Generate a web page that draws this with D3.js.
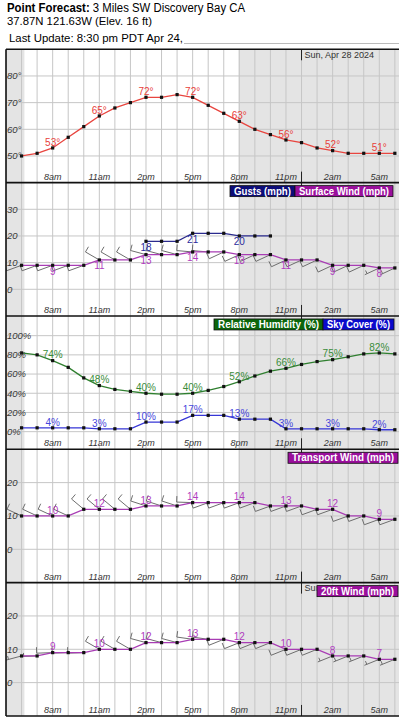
<!DOCTYPE html>
<meta charset="utf-8">

<style>
  body {
    margin: 0;
    background: #fff;
  }

  svg text {
    font-family: "Liberation Sans", Arial, sans-serif;
  }
</style>

<!-- Load d3.js -->
<script src="https://d3js.org/d3.v7.min.js"></script>

<div id="chart"></div>

<script>

  // hourly forecast times (Sat Apr 27 6am -> Sun Apr 28 6am)
  var times = ["2024-04-27 06:00", "2024-04-27 07:00", "2024-04-27 08:00", "2024-04-27 09:00",
    "2024-04-27 10:00", "2024-04-27 11:00", "2024-04-27 12:00", "2024-04-27 13:00",
    "2024-04-27 14:00", "2024-04-27 15:00", "2024-04-27 16:00", "2024-04-27 17:00",
    "2024-04-27 18:00", "2024-04-27 19:00", "2024-04-27 20:00", "2024-04-27 21:00",
    "2024-04-27 22:00", "2024-04-27 23:00", "2024-04-28 00:00", "2024-04-28 01:00",
    "2024-04-28 02:00", "2024-04-28 03:00", "2024-04-28 04:00", "2024-04-28 05:00",
    "2024-04-28 06:00"]

  // x axis labels every 3 hours
  var tickTimes = ["2024-04-27 08:00", "2024-04-27 11:00", "2024-04-27 14:00", "2024-04-27 17:00",
    "2024-04-27 20:00", "2024-04-27 23:00", "2024-04-28 02:00", "2024-04-28 05:00"]

  // which hours get a value label
  var labelIdx = [2, 5, 8, 11, 14, 17, 20, 23]

  var sunrise = "2024-04-27 06:11"
  var sunset = "2024-04-27 19:57"
  var midnight = "2024-04-28 00:00"

  // series values
  var temperature = [50, 51, 53, 57, 61, 65, 68, 70, 72, 72, 73, 72, 69, 66, 63, 60, 58, 56, 55, 53, 52, 51, 51, 51, 51]
  var surfaceWind = [9, 9, 9, 9, 9, 11, 11, 11, 13, 13, 13, 14, 14, 14, 13, 13, 13, 11, 11, 11, 9, 9, 9, 8, 8]
  var surfaceDir = [250, 250, 250, 250, 250, 300, 300, 300, 285, 285, 285, 275, 275, 245, 245, 245, 245, 245, 245, 245, 245, 245, 245, 245, 245]
  var gusts = [null, null, null, null, null, null, null, null, 18, 18, 18, 21, 21, 21, 20, 20, 20, null, null, null, null, null, null, null, null]
  var humidity = [82, 80, 74, 67, 56, 48, 44, 42, 40, 39, 39, 40, 43, 47, 52, 58, 63, 66, 70, 73, 75, 78, 81, 82, 81]
  var skyCover = [4, 4, 4, 4, 4, 3, 3, 3, 10, 10, 10, 17, 17, 17, 13, 13, 13, 3, 3, 3, 3, 3, 3, 2, 2]
  var transportWind = [10, 10, 10, 10, 12, 12, 12, 12, 13, 13, 13, 14, 14, 14, 14, 14, 13, 13, 13, 12, 12, 10, 10, 9, 9]
  var transportDir = [295, 295, 295, 295, 310, 310, 310, 310, 288, 288, 288, 272, 250, 250, 250, 250, 250, 250, 250, 250, 250, 250, 250, 250, 250]
  var wind20ft = [8, 8, 9, 9, 9, 10, 10, 10, 12, 12, 12, 13, 13, 13, 12, 12, 12, 10, 10, 10, 8, 8, 8, 7, 7]
  var wind20ftDir = [255, 268, 268, 268, 268, 300, 300, 300, 285, 285, 285, 278, 278, 248, 248, 248, 248, 248, 248, 248, 248, 248, 248, 248, 248]

  var parseTime = d3.timeParse("%Y-%m-%d %H:%M")
  var hours = times.map(parseTime)

  var W = 399, H = 720
  var panelTop = 49.3, panelH = 133.33
  var left = 6

  var svg = d3.select("#chart")
    .append("svg")
    .attr("width", W)
    .attr("height", H)

  // ---- header ----
  var t1 = svg.append("text")
    .attr("x", 7).attr("y", 12.3)
    .attr("textLength", 238).attr("lengthAdjust", "spacingAndGlyphs")
    .style("font-size", "12.5px")
  t1.append("tspan").style("font-weight", "bold").text("Point Forecast:")
  t1.append("tspan").text(" 3 Miles SW Discovery Bay CA")

  svg.append("text")
    .attr("x", 7).attr("y", 25)
    .attr("textLength", 145).attr("lengthAdjust", "spacingAndGlyphs")
    .style("font-size", "11.8px")
    .text("37.87N 121.63W (Elev. 16 ft)")

  svg.append("text")
    .attr("x", 9).attr("y", 41.6)
    .attr("textLength", 174).attr("lengthAdjust", "spacingAndGlyphs")
    .style("font-size", "11.8px")
    .text("Last Update: 8:30 pm PDT Apr 24,")

  svg.append("line")
    .attr("x1", 184).attr("x2", W).attr("y1", 43.5).attr("y2", 43.5)
    .attr("stroke", "#bbb")

  // x scale shared by all panels (5am -> 7am next day)
  var x = d3.scaleTime()
    .domain([parseTime("2024-04-27 05:00"), parseTime("2024-04-28 07:00")])
    .range([left, 410.4])

  // panel layout
  var panels = [0, 1, 2, 3, 4].map(function (i) {
    return { top: panelTop + i * panelH, bottom: panelTop + (i + 1) * panelH }
  })

  var yTemp = d3.scaleLinear().domain([40, 90]).range([panels[0].bottom, panels[0].top])
  var ySurf = d3.scaleLinear().domain([-10, 40]).range([panels[1].bottom, panels[1].top])
  var yPct = d3.scaleLinear().domain([0, 100]).range([panels[2].top + 115.7, panels[2].top + 19.7])
  var yTrans = d3.scaleLinear().domain([-10, 30]).range([panels[3].bottom, panels[3].top])
  var y20 = d3.scaleLinear().domain([-10, 30]).range([panels[4].bottom, panels[4].top])

  svg.append("clipPath").attr("id", "plotclip")
    .append("rect").attr("x", left).attr("y", panelTop).attr("width", W - left).attr("height", 5 * panelH)

  // draws the background of one panel: night shade, grid, date marks
  // dateEnd: where the legend starts covering the date text (0 = fully covered)
  function drawFrame(p, y, yTicks, dateEnd) {
    var g = svg.append("g").attr("clip-path", "url(#plotclip)")

    g.append("rect")
      .attr("x", x.range()[0]).attr("y", p.top)
      .attr("width", x(parseTime(sunrise)) - x.range()[0]).attr("height", panelH)
      .attr("fill", "#e4e4e4")
    g.append("rect")
      .attr("x", x(parseTime(sunset))).attr("y", p.top)
      .attr("width", x.range()[1] - x(parseTime(sunset))).attr("height", panelH)
      .attr("fill", "#e4e4e4")

    // hourly vertical grid
    g.selectAll(null)
      .data(d3.timeHour.range(x.domain()[0], x.domain()[1]))
      .enter().append("line")
      .attr("x1", function (d) { return x(d) }).attr("x2", function (d) { return x(d) })
      .attr("y1", p.top).attr("y2", p.bottom)
      .attr("stroke", "#c6c6c6").attr("stroke-width", 1)

    // horizontal grid
    g.selectAll(null)
      .data(yTicks)
      .enter().append("line")
      .attr("x1", left).attr("x2", W)
      .attr("y1", function (d) { return y(d) }).attr("y2", function (d) { return y(d) })
      .attr("stroke", "#c6c6c6").attr("stroke-width", 1)

    // midnight marks + date
    var mx = x(parseTime(midnight))
    g.append("line").attr("x1", mx).attr("x2", mx).attr("y1", p.top).attr("y2", p.top + 11)
      .attr("stroke", "#222").attr("stroke-width", 1)
    g.append("line").attr("x1", mx).attr("x2", mx).attr("y1", p.bottom - 11).attr("y2", p.bottom)
      .attr("stroke", "#222").attr("stroke-width", 1)

    if (dateEnd > mx) {
      var cid = "dateclip" + Math.round(p.top)
      svg.append("clipPath").attr("id", cid)
        .append("rect").attr("x", mx).attr("y", p.top).attr("width", dateEnd - mx).attr("height", 14)
      svg.append("text")
        .attr("clip-path", "url(#" + cid + ")")
        .attr("x", mx + 3).attr("y", p.top + 8.5)
        .style("font-size", "9px").attr("fill", "#333")
        .text("Sun, Apr 28 2024")
    }

    // x labels
    g.selectAll(null)
      .data(tickTimes.map(parseTime))
      .enter().append("text")
      .attr("x", function (d) { return x(d) })
      .attr("y", p.bottom - 3)
      .attr("text-anchor", "middle")
      .style("font-size", "9px").style("font-style", "italic")
      .attr("fill", "#333")
      .text(function (d) { return d3.timeFormat("%-I%p")(d).toLowerCase() })

    return g
  }

  function drawYLabels(y, yTicks, yFmt) {
    svg.append("g").selectAll(null)
      .data(yTicks)
      .enter().append("text")
      .attr("x", 7)
      .attr("y", function (d) { return y(d) + 3.3 })
      .style("font-size", "9.5px").style("font-style", "italic")
      .attr("fill", "#3a3a3a")
      .text(yFmt)
  }

  // wind barbs, staff pointing where the wind comes from
  function drawBarbs(g, y, speeds, dirs) {
    var path = d3.path()
    speeds.forEach(function (s, i) {
      var px = x(hours[i]), py = y(s)
      var a = dirs[i] * Math.PI / 180
      var ux = Math.sin(a), uy = -Math.cos(a)
      var ex = px + ux * 16, ey = py + uy * 16
      path.moveTo(px, py)
      path.lineTo(ex, ey)
      var knots = Math.round(s * 0.869 / 5) * 5
      var full = Math.floor(knots / 10), half = knots % 10 >= 5
      for (var k = 0; k < full; k++) {
        var fx = ex - ux * k * 3, fy = ey - uy * k * 3
        path.moveTo(fx, fy)
        path.lineTo(fx - uy * 6, fy + ux * 6)
      }
      if (half) {
        var off = full == 0 ? 2.5 : full * 3
        var hx = ex - ux * off, hy = ey - uy * off
        path.moveTo(hx, hy)
        path.lineTo(hx - uy * 3.5, hy + ux * 3.5)
      }
    })
    g.append("path")
      .attr("d", path.toString())
      .attr("fill", "none")
      .attr("stroke", "#6e6e6e")
      .attr("stroke-width", 1)
  }

  // one series: line, black squares, value labels
  function drawSeries(g, y, values, lineColor, labelColor, below, suffix) {
    var line = d3.line()
      .defined(function (d) { return d != null })
      .x(function (d, i) { return x(hours[i]) })
      .y(function (d) { return y(d) })

    g.append("path")
      .datum(values)
      .attr("d", line)
      .attr("fill", "none")
      .attr("stroke", lineColor)
      .attr("stroke-width", 1.3)

    g.selectAll(null)
      .data(values.map(function (v, i) { return { v: v, t: hours[i] } }).filter(function (d) { return d.v != null }))
      .enter().append("rect")
      .attr("x", function (d) { return x(d.t) - 1.6 })
      .attr("y", function (d) { return y(d.v) - 1.6 })
      .attr("width", 3.2).attr("height", 3.2)
      .attr("fill", "#111")

    g.selectAll(null)
      .data(labelIdx.filter(function (i) { return values[i] != null }))
      .enter().append("text")
      .attr("x", function (i) { return x(hours[i]) })
      .attr("y", function (i) { return below ? y(values[i]) + 9.5 : y(values[i]) - 2.2 })
      .attr("text-anchor", "middle")
      .style("font-size", "10px")
      .attr("fill", labelColor)
      .text(function (i) { return values[i] + suffix })
  }

  // legend boxes at the top right of a panel
  function drawLegend(p, items) {
    items.forEach(function (it) {
      svg.append("rect")
        .attr("x", it.x0).attr("y", p.top + 3)
        .attr("width", it.x1 - it.x0).attr("height", 11)
        .attr("fill", it.color)
        .attr("stroke", "#111").attr("stroke-width", 0.8)
      svg.append("text")
        .attr("x", (it.x0 + it.x1) / 2).attr("y", p.top + 12)
        .attr("text-anchor", "middle")
        .attr("textLength", it.x1 - it.x0 - 8).attr("lengthAdjust", "spacingAndGlyphs")
        .style("font-size", "10px").style("font-weight", "bold")
        .attr("fill", "#fff")
        .text(it.label)
    })
  }

  // ---- panel 1: temperature ----
  var g1 = drawFrame(panels[0], yTemp, [50, 60, 70, 80], W)
  drawSeries(g1, yTemp, temperature, "#e8453f", "#e8403a", false, "°")
  drawYLabels(yTemp, [50, 60, 70, 80], function (d) { return d + "°" })

  // ---- panel 2: surface wind + gusts ----
  var g2 = drawFrame(panels[1], ySurf, [0, 10, 20, 30], 0)
  drawBarbs(g2, ySurf, surfaceWind, surfaceDir)
  drawSeries(g2, ySurf, gusts, "#2b2b8e", "#2b2b9c", true, "")
  drawSeries(g2, ySurf, surfaceWind, "#a83cb4", "#b03cc0", true, "")
  drawYLabels(ySurf, [0, 10, 20, 30], function (d) { return d })
  drawLegend(panels[1], [
    { x0: 230, x1: 295, color: "#0c0c78", label: "Gusts (mph)" },
    { x0: 295, x1: 393, color: "#9a0f9c", label: "Surface Wind (mph)" }
  ])

  // ---- panel 3: relative humidity + sky cover ----
  var g3 = drawFrame(panels[2], yPct, [0, 20, 40, 60, 80, 100], 0)
  drawSeries(g3, yPct, humidity, "#2f7f2f", "#3a8c3a", false, "%")
  drawSeries(g3, yPct, skyCover, "#3636d6", "#4646dc", false, "%")
  drawYLabels(yPct, [0, 20, 40, 60, 80, 100], function (d) { return d + "%" })
  drawLegend(panels[2], [
    { x0: 214, x1: 323, color: "#0b660b", label: "Relative Humidity (%)" },
    { x0: 323, x1: 394, color: "#0a0acc", label: "Sky Cover (%)" }
  ])

  // ---- panel 4: transport wind ----
  var g4 = drawFrame(panels[3], yTrans, [0, 10, 20], 0)
  drawBarbs(g4, yTrans, transportWind, transportDir)
  drawSeries(g4, yTrans, transportWind, "#a83cb4", "#b03cc0", false, "")
  drawYLabels(yTrans, [0, 10, 20], function (d) { return d })
  drawLegend(panels[3], [
    { x0: 288, x1: 398, color: "#9a0f9c", label: "Transport Wind (mph)" }
  ])

  // ---- panel 5: 20ft wind ----
  var g5 = drawFrame(panels[4], y20, [0, 10, 20], 316.5)
  drawBarbs(g5, y20, wind20ft, wind20ftDir)
  drawSeries(g5, y20, wind20ft, "#a83cb4", "#b03cc0", false, "")
  drawYLabels(y20, [0, 10, 20], function (d) { return d })
  drawLegend(panels[4], [
    { x0: 317, x1: 398, color: "#9a0f9c", label: "20ft Wind (mph)" }
  ])

  // panel borders
  panels.forEach(function (p) {
    svg.append("line").attr("x1", left).attr("x2", W).attr("y1", p.top).attr("y2", p.top)
      .attr("stroke", "#111").attr("stroke-width", 1.6)
  })
  svg.append("line").attr("x1", left).attr("x2", W)
    .attr("y1", panels[4].bottom).attr("y2", panels[4].bottom)
    .attr("stroke", "#111").attr("stroke-width", 1.6)
  svg.append("line").attr("x1", left).attr("x2", left)
    .attr("y1", panelTop).attr("y2", panels[4].bottom)
    .attr("stroke", "#111").attr("stroke-width", 1.6)

</script>
